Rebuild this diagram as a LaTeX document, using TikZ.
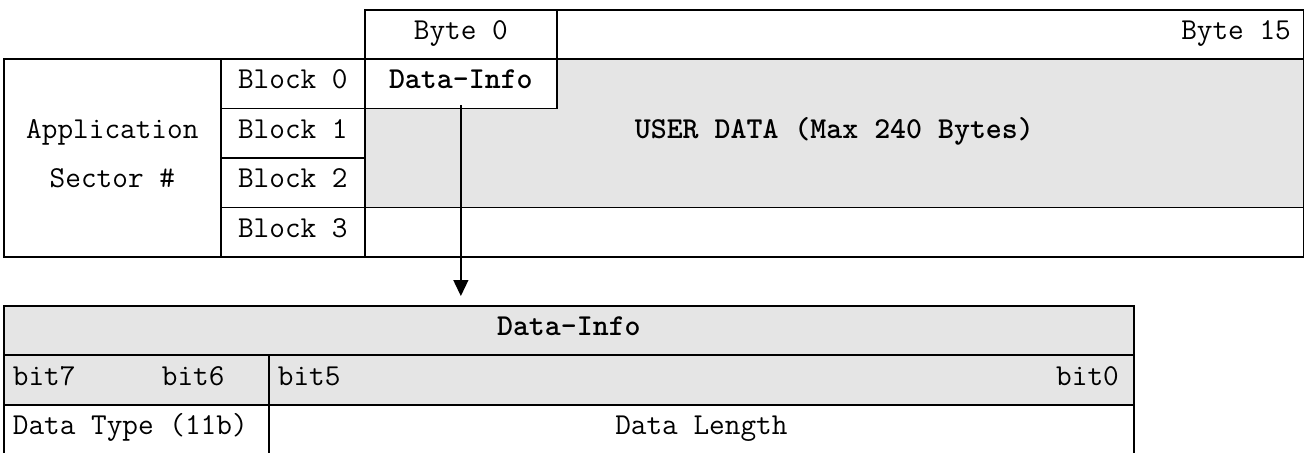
\documentclass[tikz,border=0pt]{standalone}
\usepackage{fontspec}
\usetikzlibrary{arrows.meta}
\definecolor{cellgray}{RGB}{229,229,229}
\begin{document}
\begin{tikzpicture}
  [x=0.5pt,y=-0.5pt,line width=0.85pt,
   every node/.style={font=\ttfamily\fontsize{15.2}{18}\selectfont,text height=1.5ex,text depth=.25ex,inner sep=0pt},
   cell/.style={draw,rectangle,anchor=north west},
   shaded/.style={cell,fill=cellgray}]
  \useasboundingbox (0,0) rectangle (1304,452);

  % sector layout
  \node[cell,minimum width=96pt,minimum height=24.5pt] (byte0) at (364,9) {Byte 0};
  \node[cell,minimum width=373.5pt,minimum height=24.5pt] (byte15) at (556,9) {};
  \node[anchor=east] (byte15txt) at ([xshift=-6.5pt]byte15.east) {Byte 15};
  \node[cell,minimum width=108.5pt,minimum height=99pt] (app) at (3,58) {};
  \foreach \i in {0,...,3}
    \node[cell,minimum width=72pt,minimum height=24.75pt] (blk\i) at (220,{58+49.5*\i}) {Block \i};
  \node (apptop) at (app.center |- blk1) {Application};
  \node (appbot) at (app.center |- blk2) {Sector \#};
  \node[shaded,minimum width=469.5pt,minimum height=74.25pt] (user) at (364,58) {\bfseries USER DATA (Max 240 Bytes)};
  \node[cell,fill=white,minimum width=96pt,minimum height=24.75pt] (dinfo) at (364,58) {\bfseries Data-Info};
  \node[cell,minimum width=469.5pt,minimum height=24.75pt] (blk3row) at (364,206.5) {};

  % data-info byte
  \node[shaded,minimum width=565pt,minimum height=24.5pt] (dhead) at (3,305) {\bfseries Data-Info};
  \node[shaded,minimum width=132.5pt,minimum height=25pt] (bitsl) at (3,354) {};
  \node[shaded,minimum width=432.5pt,minimum height=25pt] (bitsr) at (268,354) {};
  \node[cell,minimum width=132.5pt,minimum height=24.5pt] (dtype) at (3,404) {};
  \node[cell,minimum width=432.5pt,minimum height=24.5pt] (dlen) at (268,404) {Data Length};
  \node[anchor=west] (b7) at ([xshift=4.5pt]bitsl.west) {bit7};
  \node[anchor=west] (b6) at ([xshift=79pt]bitsl.west) {bit6};
  \node[anchor=west] (b5) at ([xshift=4.5pt]bitsr.west) {bit5};
  \node[anchor=east] (b0) at ([xshift=-7.5pt]bitsr.east) {bit0};
  \node[anchor=west] (dtypetxt) at ([xshift=4.5pt]dtype.west) {Data Type (11b)};

  \draw[line width=0.65pt,-{Triangle[width=7.5pt,length=8pt]},shorten >=4.5pt]
    ([yshift=2pt]dinfo.south) -- (dinfo.south |- dhead.north);

\end{tikzpicture}
\end{document}
